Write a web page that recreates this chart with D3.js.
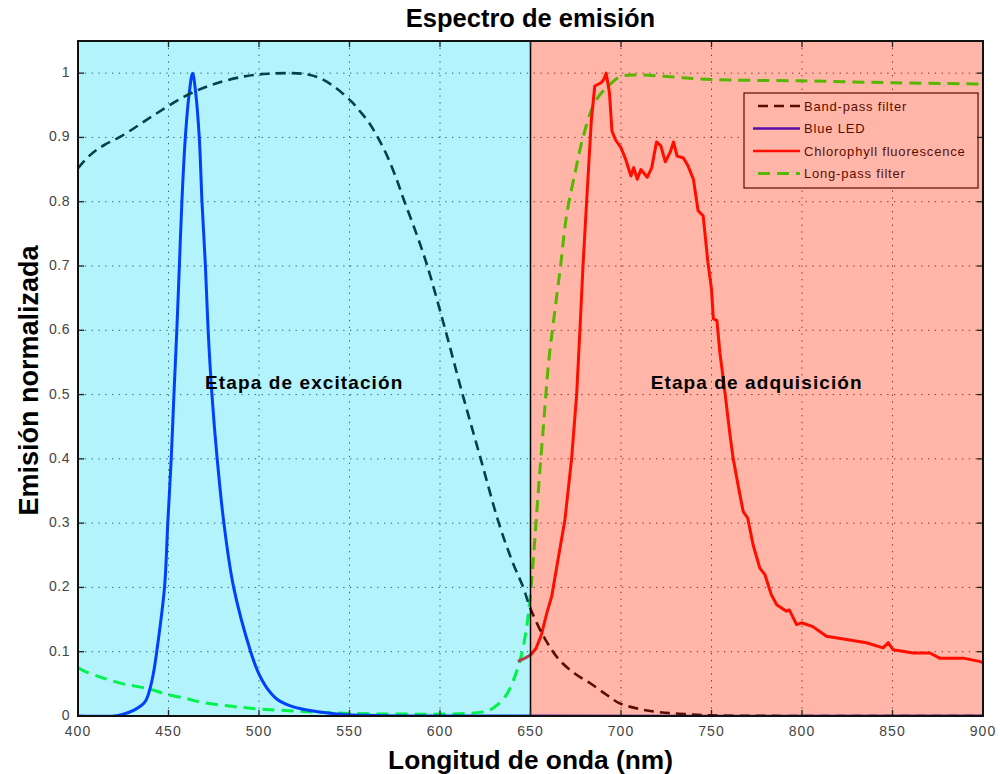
<!DOCTYPE html>
<html>
<head>
<meta charset="utf-8">
<script src="https://cdn.jsdelivr.net/npm/d3@7"></script>
<style>
  html, body { margin: 0; padding: 0; background: #fff; }
  svg { display: block; }
</style>
</head>
<body>
<svg id="chart" width="1000" height="774"></svg>
<script>
// ---------------- DATA ----------------
const xTicks = [400, 450, 500, 550, 600, 650, 700, 750, 800, 850, 900];
const yTicks = [0, 0.1, 0.2, 0.3, 0.4, 0.5, 0.6, 0.7, 0.8, 0.9, 1];
const yTickLabels = ["0", "0.1", "0.2", "0.3", "0.4", "0.5", "0.6", "0.7", "0.8", "0.9", "1"];

const seriesNames = ["Band-pass filter", "Blue LED", "Chlorophyll fluorescence", "Long-pass filter"];

const bandPassNm = [400,405,410,415,424,441,459,474,492,505,518,527,534,542,551,556,561,566,571,576,580,587,593,603,612.5,622.5,632.5,640,646,650,658,666,675,683,692,699,710,721,735,750,800,900];
const bandPassVal = [0.852,0.868,0.88,0.889,0.902,0.933,0.964,0.982,0.995,0.999,1.0,0.998,0.992,0.978,0.956,0.94,0.922,0.898,0.87,0.835,0.803,0.75,0.7,0.6,0.5,0.4,0.3,0.24,0.2,0.167,0.12,0.087,0.065,0.051,0.033,0.02,0.011,0.006,0.003,0.001,0,0];

const blueLedNm = [400,420,424,431.5,437,440,442,443.5,447.8,449.6,451.5,453,454.6,456,457.4,459.3,461.5,463.3,465,467,468.5,470.4,471.9,474,476.9,480.6,486,495.4,500,504,510,517,525,543,560,580,900];
const blueLedVal = [0,0,0.002,0.01,0.022,0.045,0.072,0.1,0.2,0.3,0.4,0.5,0.6,0.7,0.8,0.9,0.97,1.0,0.97,0.9,0.8,0.7,0.6,0.5,0.4,0.3,0.2,0.1,0.065,0.045,0.026,0.016,0.01,0.003,0.001,0,0];

const chloroNm = [643,647,650,653,656,659,661.7,665,669,672.7,675.5,677.3,679,681,683.6,685.5,689,690.5,691.8,693.6,695,697,700,702.7,705.5,707,709,711,714.5,717,719.6,722,724.5,727.3,729,731,734.5,737,740,742.6,745.4,748,750,751,753,754.6,757.4,760,762,765.7,767.5,770,773,776.7,779.5,783,786,791.4,793,797,799.7,806,813.5,824.6,835.6,844.8,847.6,850.4,861.4,870.6,876,889,898,900];
const chloroVal = [0.085,0.09,0.095,0.105,0.126,0.16,0.186,0.24,0.305,0.4,0.5,0.6,0.7,0.8,0.926,0.98,0.985,0.99,1.0,0.97,0.91,0.896,0.884,0.865,0.84,0.853,0.835,0.85,0.838,0.853,0.893,0.887,0.862,0.878,0.893,0.871,0.868,0.856,0.835,0.786,0.778,0.706,0.664,0.618,0.615,0.566,0.504,0.442,0.4,0.344,0.318,0.308,0.266,0.23,0.22,0.189,0.173,0.163,0.165,0.142,0.145,0.139,0.124,0.119,0.114,0.106,0.114,0.103,0.098,0.098,0.09,0.09,0.085,0.083];

const longPassNm = [400,405,414,425,438,449,460,469,485,500,525,550,580,600,615,623,628,632,636,639,644,647.6,650,652,654.6,657.4,660,663,666.6,670,675,679,684,688,693,700,711,729,750,800,850,900];
const longPassVal = [0.075,0.068,0.059,0.05,0.043,0.034,0.027,0.021,0.015,0.011,0.007,0.004,0.003,0.003,0.004,0.006,0.01,0.018,0.03,0.045,0.084,0.133,0.19,0.26,0.36,0.46,0.55,0.62,0.7,0.78,0.85,0.9,0.945,0.965,0.98,0.995,0.997,0.994,0.99,0.988,0.985,0.983];

const regionBounds = [400, 650, 900];
const regionLabels = ["Etapa de excitación", "Etapa de adquisición"];
const regionLabelPos = [[525, 0.52], [775, 0.52]];

// ---------------- CHART ----------------
const svg = d3.select("#chart");
const pLeft = 78, pRight = 983, pTop = 41, pBottom = 716;
const x = d3.scaleLinear().domain([400, 900]).range([pLeft, pRight]);
const y = d3.scaleLinear().domain([0, 1.05]).range([pBottom, pTop]);
const FONT = "Liberation Sans, Arial, sans-serif";

svg.append("defs").append("clipPath").attr("id", "clip")
  .append("rect").attr("x", pLeft).attr("y", pTop).attr("width", pRight - pLeft).attr("height", pBottom - pTop);

// background
svg.append("rect").attr("x", pLeft).attr("y", pTop).attr("width", pRight - pLeft).attr("height", pBottom - pTop).attr("fill", "#fff");

// grid
const grid = svg.append("g").attr("stroke", "#333").attr("stroke-width", 1).attr("stroke-dasharray", "1.3,5.5");
grid.selectAll(".gx").data(xTicks.slice(1, -1)).join("line")
  .attr("x1", d => x(d)).attr("x2", d => x(d)).attr("y1", pTop).attr("y2", pBottom);
grid.selectAll(".gy").data(yTicks.slice(1)).join("line")
  .attr("x1", pLeft).attr("x2", pRight).attr("y1", d => y(d)).attr("y2", d => y(d));

const plot = svg.append("g").attr("clip-path", "url(#clip)");

function zip(a, b) { return a.map((v, i) => [v, b[i]]); }
const smooth = d3.line().x(d => x(d[0])).y(d => y(d[1])).curve(d3.curveCatmullRom.alpha(0.5));
const lin = d3.line().x(d => x(d[0])).y(d => y(d[1]));

plot.append("path").datum(zip(longPassNm, longPassVal)).attr("d", smooth)
  .attr("fill", "none").attr("stroke", "#00ff00").attr("stroke-width", 3).attr("stroke-dasharray", "12,7");
plot.append("path").datum(zip(blueLedNm, blueLedVal)).attr("d", smooth)
  .attr("fill", "none").attr("stroke", "#0000ff").attr("stroke-width", 3);
plot.append("path").datum(zip(chloroNm, chloroVal)).attr("d", lin)
  .attr("fill", "none").attr("stroke", "#ff0000").attr("stroke-width", 3).attr("stroke-linejoin", "round");
plot.append("path").datum(zip(bandPassNm, bandPassVal)).attr("d", smooth)
  .attr("fill", "none").attr("stroke", "#000").attr("stroke-width", 2.6).attr("stroke-dasharray", "10,6");

// legend (drawn under the translucent overlay)
const lg = svg.append("g");
const lgX = 744, lgY = 93, lgW = 234, lgH = 95;
lg.append("rect").attr("x", lgX).attr("y", lgY).attr("width", lgW).attr("height", lgH)
  .attr("fill", "#fff").attr("stroke", "#000").attr("stroke-width", 1.2);
const lgStyles = [
  {stroke: "#000", dash: "10,6", w: 2.6},
  {stroke: "#0000ff", dash: null, w: 2.5},
  {stroke: "#ff0000", dash: null, w: 2.5},
  {stroke: "#00ff00", dash: "12,7", w: 3}
];
seriesNames.forEach((name, i) => {
  const yy = lgY + 13 + i * 22.5;
  const s = lgStyles[i];
  const l = lg.append("line").attr("x1", s.dash ? 758 : 753).attr("x2", 800).attr("y1", yy).attr("y2", yy)
    .attr("stroke", s.stroke).attr("stroke-width", s.w);
  if (s.dash) l.attr("stroke-dasharray", s.dash);
  lg.append("text").attr("x", 804).attr("y", yy + 4.5).text(name)
    .attr("font-family", FONT).attr("font-size", 13)
    .attr("letter-spacing", 0.8).attr("fill", "#000");
});

// translucent region overlays
const overlayColors = ["rgba(0,215,245,0.30)", "rgba(255,40,0,0.34)"];
svg.append("g").selectAll("rect").data([0, 1]).join("rect")
  .attr("x", i => x(regionBounds[i])).attr("y", pTop)
  .attr("width", i => x(regionBounds[i + 1]) - x(regionBounds[i])).attr("height", pBottom - pTop)
  .attr("fill", i => overlayColors[i]);

// divider line
svg.append("line").attr("x1", x(650)).attr("x2", x(650)).attr("y1", pTop).attr("y2", pBottom)
  .attr("stroke", "#000").attr("stroke-width", 1.5);

// region labels
svg.append("g").selectAll("text").data(regionLabels).join("text")
  .attr("x", (d, i) => x(regionLabelPos[i][0])).attr("y", (d, i) => y(regionLabelPos[i][1]) + 7)
  .attr("text-anchor", "middle").attr("font-family", FONT)
  .attr("font-weight", "bold").attr("font-size", 19).attr("letter-spacing", 1.1)
  .attr("fill", "#000").text(d => d);

// ticks (inward, all four sides)
const tk = svg.append("g").attr("stroke", "#222").attr("stroke-width", 1.3);
xTicks.forEach(t => {
  tk.append("line").attr("x1", x(t)).attr("x2", x(t)).attr("y1", pBottom).attr("y2", pBottom - 6);
  tk.append("line").attr("x1", x(t)).attr("x2", x(t)).attr("y1", pTop).attr("y2", pTop + 6);
});
yTicks.forEach(t => {
  tk.append("line").attr("x1", pLeft).attr("x2", pLeft + 6).attr("y1", y(t)).attr("y2", y(t));
  tk.append("line").attr("x1", pRight).attr("x2", pRight - 6).attr("y1", y(t)).attr("y2", y(t));
});

// frame
svg.append("rect").attr("x", pLeft).attr("y", pTop).attr("width", pRight - pLeft).attr("height", pBottom - pTop)
  .attr("fill", "none").attr("stroke", "#111").attr("stroke-width", 2);

// tick labels
const tl = svg.append("g").attr("font-family", FONT).attr("font-size", 14).attr("fill", "#444");
tl.selectAll(".xl").data(xTicks).join("text")
  .attr("x", d => x(d)).attr("y", 736).attr("text-anchor", "middle").attr("letter-spacing", 1).text(d => d);
tl.selectAll(".yl").data(yTicks).join("text")
  .attr("x", 70).attr("y", d => y(d) + 4).attr("text-anchor", "end").attr("letter-spacing", 0.5)
  .text((d, i) => yTickLabels[i]);

// titles
svg.append("text").attr("x", (pLeft + pRight) / 2).attr("y", 27).attr("text-anchor", "middle")
  .attr("font-family", FONT).attr("font-weight", "bold").attr("font-size", 25.5)
  .text("Espectro de emisión");
svg.append("text").attr("x", (pLeft + pRight) / 2).attr("y", 769).attr("text-anchor", "middle")
  .attr("font-family", FONT).attr("font-weight", "bold").attr("font-size", 26.3)
  .text("Longitud de onda (nm)");
svg.append("text").attr("transform", `translate(38,${(pTop + pBottom) / 2 + 2}) rotate(-90)`).attr("text-anchor", "middle")
  .attr("font-family", FONT).attr("font-weight", "bold").attr("font-size", 27)
  .text("Emisión normalizada");
</script>
</body>
</html>
